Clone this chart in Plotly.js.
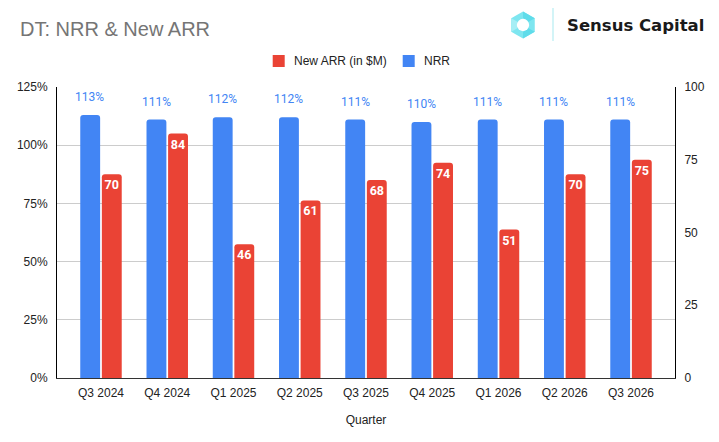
<!DOCTYPE html>
<html>
<head>
<meta charset="utf-8">
<script src="https://cdn.plot.ly/plotly-3.0.1.min.js"></script>
<style>html,body{margin:0;padding:0;background:#fff;}#chart{width:719px;height:442px;}</style>
</head>
<body>
<div id="chart"></div>
<script>
const quarters = ["Q3 2024","Q4 2024","Q1 2025","Q2 2025","Q3 2025","Q4 2025","Q1 2026","Q2 2026","Q3 2026"];
const nrr = [113,111,112,112,111,110,111,111,111];
const newArr = [70,84,46,61,68,74,51,70,75];
const leftTicks = [0,25,50,75,100,125];
const rightTicks = [0,25,50,75,100];
const seriesNames = ["New ARR (in $M)", "NRR"];

const BLUE = "#4285F4", RED = "#EA4335";
const seriesColors = [RED, BLUE];

// pixel -> paper helpers (plot area: x 57..675, y 87..378)
const px = v => (v - 57) / 618;
const py = v => (378 - v) / 291;

const traces = [
  {
    type: "bar", name: seriesNames[0], x: quarters, y: newArr, yaxis: "y2",
    marker: {color: RED, cornerradius: 3},
    width: 0.3, offset: 0.013,
    text: newArr.map(String), textposition: "inside", insidetextanchor: "end",
    constraintext: "none", textangle: 0,
    textfont: {family: "Roboto", size: 12.5, color: "#ffffff", weight: "bold"},
    hoverinfo: "skip", showlegend: false
  },
  {
    type: "bar", name: seriesNames[1], x: quarters, y: nrr, yaxis: "y",
    marker: {color: BLUE, cornerradius: 3},
    width: 0.3, offset: -0.313,
    hoverinfo: "skip", showlegend: false
  }
];

const annotations = quarters.map((q, i) => ({
  x: q, y: nrr[i], xref: "x", yref: "y", xshift: -11, yshift: 18,
  yanchor: "middle", xanchor: "center", showarrow: false,
  text: nrr[i] + "%", font: {family: "Roboto", size: 12, color: BLUE}
}));

// legend (manual, to match the spacing of the reference)
const legendSquares = [272.7, 402.7];
const legendTexts = [292, 422];
const shapes = [];
seriesNames.forEach((n, i) => {
  shapes.push({
    type: "rect", xref: "paper", yref: "paper",
    x0: px(legendSquares[i]), x1: px(legendSquares[i] + 12),
    y0: py(67), y1: py(55),
    fillcolor: seriesColors[i], line: {width: 0}
  });
  annotations.push({
    xref: "paper", yref: "paper", x: px(legendTexts[i]), y: py(61),
    xanchor: "left", yanchor: "middle", showarrow: false,
    text: n.replace("$", "&#36;"), font: {family: "Liberation Sans", size: 12, color: "#222222"}
  });
});

annotations.push({
  xref: "paper", yref: "paper", x: px(565), y: py(25),
  xanchor: "left", yanchor: "middle", showarrow: false,
  text: "Sensus Capital", font: {family: "DejaVu Sans", size: 16.5, color: "#1a1a1a", weight: 600}
});

shapes.push({
  type: "line", xref: "paper", yref: "paper",
  x0: px(553), x1: px(553), y0: py(41), y1: py(8),
  line: {color: "#c4f0f4", width: 1.5}
});

const logoSvg = '<svg xmlns="http://www.w3.org/2000/svg" viewBox="0 0 100 100">' +
  '<polygon points="50,2 92,26 92,74 50,98 8,74 8,26" fill="#7ee6f0"/>' +
  '<polygon points="50,2 92,26 70,38 50,26" fill="#5fdcea"/>' +
  '<polygon points="92,74 50,98 50,74 70,62" fill="#5fdcea"/>' +
  '<polygon points="8,26 30,38 30,62 8,74" fill="#a6eef5"/>' +
  '<circle cx="50" cy="50" r="22" fill="#ffffff"/></svg>';

const layout = {
  width: 719, height: 442,
  margin: {l: 57, r: 44, t: 87, b: 64},
  paper_bgcolor: "#ffffff", plot_bgcolor: "#ffffff",
  title: {
    text: "DT: NRR &amp; New ARR", xref: "container", yref: "container",
    x: 20/719, xanchor: "left", y: 1 - 29/442, yanchor: "middle",
    font: {family: "Liberation Sans", size: 20, color: "#757575"}
  },
  barmode: "group",
  showlegend: false,
  xaxis: {
    type: "category", range: [-0.664, 8.664],
    showline: true, linecolor: "#333333", linewidth: 1,
    ticks: "", ticklabelstandoff: 4,
    tickfont: {family: "Liberation Sans", size: 12, color: "#222222"},
    title: {text: "Quarter", standoff: 16, font: {family: "Liberation Sans", size: 12, color: "#222222"}},
    fixedrange: true
  },
  yaxis: {
    range: [0, 125], tickvals: leftTicks, ticktext: leftTicks.map(v => v + "%"),
    showline: true, linecolor: "#000000", linewidth: 1,
    showgrid: true, gridcolor: "#cccccc", gridwidth: 1,
    zeroline: false, ticks: "", ticklabelstandoff: 6,
    tickfont: {family: "Liberation Sans", size: 12, color: "#222222"},
    fixedrange: true
  },
  yaxis2: {
    range: [0, 100], tickvals: rightTicks, ticktext: rightTicks.map(String),
    overlaying: "y", side: "right",
    showline: true, linecolor: "#000000", linewidth: 1,
    showgrid: false, zeroline: false, ticks: "", ticklabelstandoff: 6,
    tickfont: {family: "Liberation Sans", size: 12, color: "#222222"},
    fixedrange: true
  },
  annotations: annotations,
  shapes: shapes,
  images: [{
    source: "data:image/svg+xml;utf8," + encodeURIComponent(logoSvg),
    xref: "paper", yref: "paper", x: px(523), y: py(25),
    sizex: 28/618, sizey: 28/291, xanchor: "center", yanchor: "middle",
    sizing: "contain", layer: "above"
  }]
};

Plotly.newPlot("chart", traces, layout, {displayModeBar: false, staticPlot: true});
</script>
</body>
</html>
